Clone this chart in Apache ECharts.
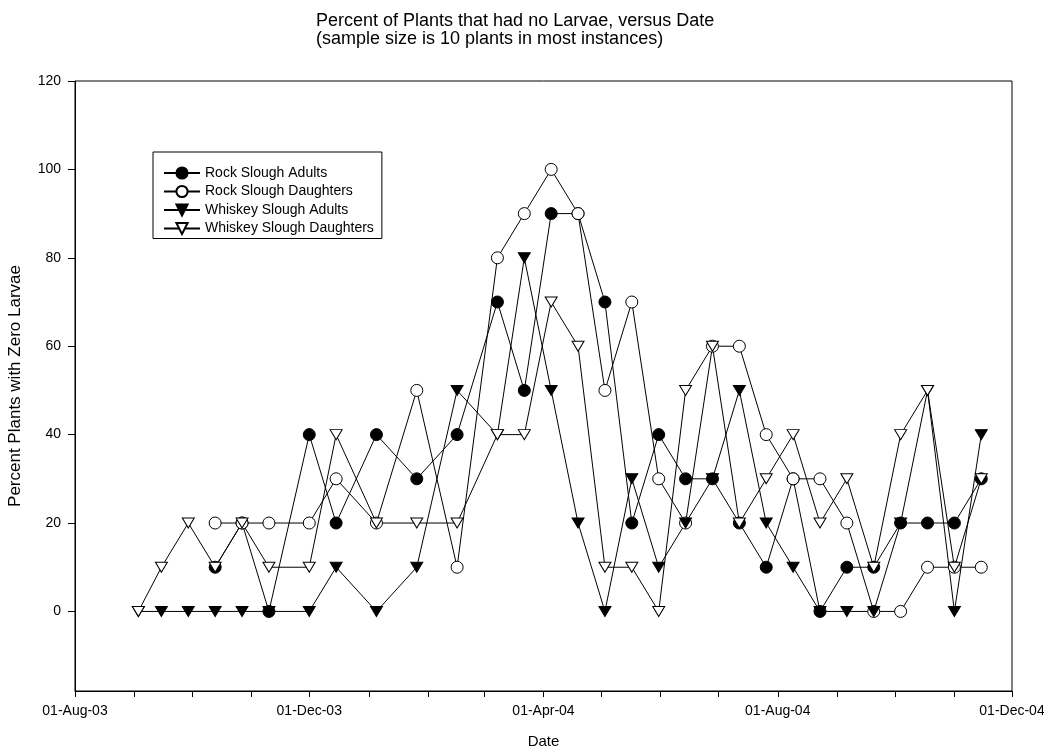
<!DOCTYPE html>
<html>
<head>
<meta charset="utf-8">
<script src="https://cdn.jsdelivr.net/npm/echarts@6/dist/echarts.min.js"></script>
<style>
  html, body { margin: 0; padding: 0; background: #fff; }
  #chart { width: 1044px; height: 752px; }
</style>
</head>
<body>
<div id="chart"></div>
<script>
// Sampling dates (shared by all four series)
const sampleDates = [
  '2003-09-03','2003-09-15','2003-09-29','2003-10-13','2003-10-27','2003-11-10',
  '2003-12-01','2003-12-15','2004-01-05','2004-01-26','2004-02-16','2004-03-08',
  '2004-03-22','2004-04-05','2004-04-19','2004-05-03','2004-05-17','2004-05-31',
  '2004-06-14','2004-06-28','2004-07-12','2004-07-26','2004-08-09','2004-08-23',
  '2004-09-06','2004-09-20','2004-10-04','2004-10-18','2004-11-01','2004-11-15'
];

// Percent of plants with zero larvae (null = not sampled)
const rockAdults = [null, null, null, 10, 20, 0, 40, 20, 40, 30, 40, 70, 50, 90, 90,
  70, 20, 40, 30, 30, 20, 10, 30, 0, 10, 10, 20, 20, 20, 30];
const rockDaughters = [null, null, null, 20, 20, 20, 20, 30, 20, 50, 10, 80, 90, 100, 90,
  50, 70, 30, 20, 60, 60, 40, 30, 30, 20, 0, 0, 10, 10, 10];
const whiskeyAdults = [0, 0, 0, 0, 0, 0, 0, 10, 0, 10, 50, 40, 80, 50, 20,
  0, 30, 10, 20, 30, 50, 20, 10, 0, 0, 0, 20, 50, 0, 40];
const whiskeyDaughters = [0, 10, 20, 10, 20, 10, 10, 40, 20, 20, 20, 40, 40, 70, 60,
  10, 10, 0, 50, 60, 20, 30, 40, 20, 30, 10, 40, 50, 10, 30];

const seriesNames = ['Rock Slough Adults', 'Rock Slough Daughters',
  'Whiskey Slough Adults', 'Whiskey Slough Daughters'];

// Axis ticks
const xLabelDates = ['2003-08-01', '2003-12-01', '2004-04-01', '2004-08-01', '2004-12-01'];
const yTickValues = [0, 20, 40, 60, 80, 100, 120];

const MONTHS = ['Jan','Feb','Mar','Apr','May','Jun','Jul','Aug','Sep','Oct','Nov','Dec'];
function toTime(s) {
  const p = s.split('-').map(Number);
  return new Date(p[0], p[1] - 1, p[2]).getTime();
}
function fmtDate(v) {
  const d = new Date(v);
  const dd = String(d.getDate()).padStart(2, '0');
  const yy = String(d.getFullYear() % 100).padStart(2, '0');
  return dd + '-' + MONTHS[d.getMonth()] + '-' + yy;
}
function pairs(values) {
  return sampleDates.map((d, i) => [toTime(d), values[i]]).filter(p => p[1] !== null);
}

// Monthly tick marks along the date axis
const monthTicks = [];
for (let y = 2003, m = 7; y < 2004 || (y === 2004 && m <= 11); ) {
  monthTicks.push(new Date(y, m, 1).getTime());
  m++; if (m > 11) { m = 0; y++; }
}

const FONT = '"Liberation Sans", Arial, sans-serif';

function makeSeries(name, values, symbol, fill, size, rotate) {
  return {
    name: name,
    type: 'line',
    data: pairs(values),
    symbol: symbol,
    symbolSize: size,
    symbolRotate: rotate || 0,
    showAllSymbol: true,
    lineStyle: { color: '#000', width: 1 },
    itemStyle: { color: fill, borderColor: '#000', borderWidth: 1 },
    emphasis: { disabled: true }
  };
}

const chart = echarts.init(document.getElementById('chart'), null, { renderer: 'canvas' });
chart.setOption({
  animation: false,
  backgroundColor: '#fff',
  textStyle: { fontFamily: FONT, color: '#000' },
  title: {
    text: 'Percent of Plants that had no Larvae, versus Date\n(sample size is 10 plants in most instances)',
    left: 311,
    top: 7,
    textStyle: { fontFamily: FONT, fontSize: 18, fontWeight: 'normal', color: '#000', lineHeight: 18 }
  },
  legend: {
    orient: 'vertical',
    left: 153,
    top: 152,
    padding: [14, 8, 3, 10],
    itemWidth: 36,
    itemHeight: 14,
    itemGap: 4.5,
    borderColor: '#000',
    borderWidth: 1,
    textStyle: { fontFamily: FONT, fontSize: 14, color: '#000', lineHeight: 14 },
    data: seriesNames
  },
  grid: {
    left: 75, right: 32, top: 81, bottom: 61,
    outerBoundsMode: 'none',
    containLabel: false,
    show: true, borderColor: '#000', borderWidth: 1, backgroundColor: 'transparent'
  },
  xAxis: {
    type: 'value',
    min: toTime('2003-08-01'),
    max: toTime('2004-12-01'),
    name: 'Date',
    nameLocation: 'middle',
    nameGap: 43,
    nameTextStyle: { fontFamily: FONT, fontSize: 15, color: '#000' },
    axisLine: { onZero: false, lineStyle: { color: '#000', width: 1 } },
    axisTick: { show: true, inside: false, length: 6, customValues: monthTicks, lineStyle: { color: '#000' } },
    axisLabel: {
      customValues: xLabelDates.map(toTime),
      formatter: v => fmtDate(v),
      fontFamily: FONT, fontSize: 14, color: '#000', margin: 13,
      showMinLabel: true, showMaxLabel: true, hideOverlap: false
    },
    splitLine: { show: false }
  },
  yAxis: {
    type: 'value',
    min: -18,
    max: 120,
    name: 'Percent Plants with Zero Larvae',
    nameLocation: 'middle',
    nameGap: 51,
    nameTextStyle: { fontFamily: FONT, fontSize: 17, color: '#000' },
    axisLine: { show: true, lineStyle: { color: '#000', width: 1 } },
    axisTick: { show: true, inside: false, length: 7, customValues: yTickValues, lineStyle: { color: '#000' } },
    axisLabel: {
      customValues: yTickValues,
      fontFamily: FONT, fontSize: 14, color: '#000', margin: 14
    },
    splitLine: { show: false }
  },
  series: [
    makeSeries(seriesNames[0], rockAdults, 'circle', '#000', 12),
    makeSeries(seriesNames[1], rockDaughters, 'circle', '#fff', 12),
    makeSeries(seriesNames[2], whiskeyAdults, 'triangle', '#000', [12, 10], 180),
    makeSeries(seriesNames[3], whiskeyDaughters, 'triangle', '#fff', [12, 10], 180)
  ]
});
</script>
</body>
</html>
